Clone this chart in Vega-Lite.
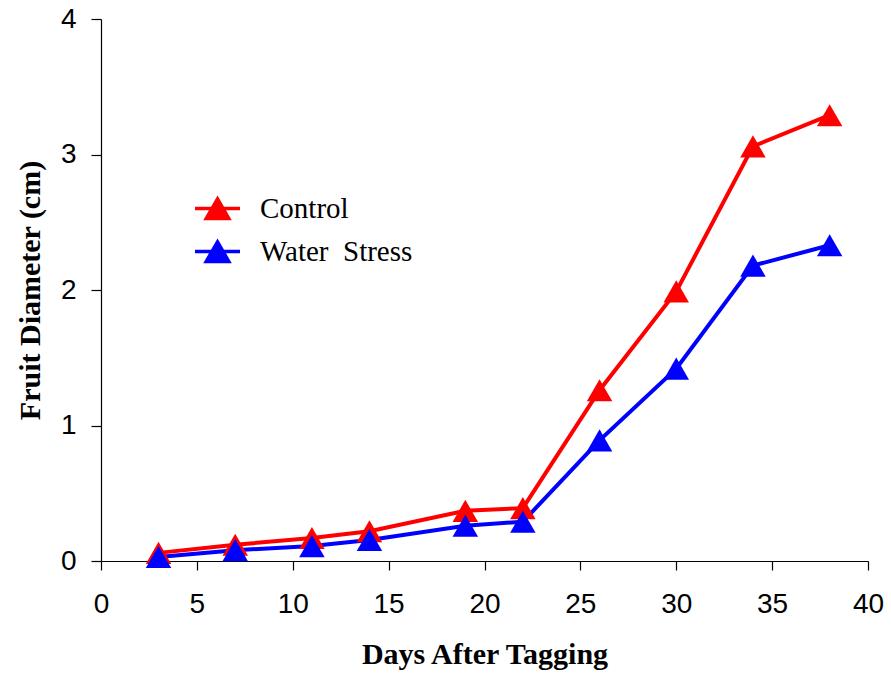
{
  "$schema": "https://vega.github.io/schema/vega-lite/v6.json",
  "autosize": "none",
  "padding": {"left": 101, "top": 19, "right": 23, "bottom": 114},
  "width": 767,
  "height": 542,
  "background": "white",
  "config": {"view": {"stroke": null}},
  "data": {"values": [
    {"day": 3, "diameter": 0.06, "treatment": "Control"},
    {"day": 7, "diameter": 0.12, "treatment": "Control"},
    {"day": 11, "diameter": 0.17, "treatment": "Control"},
    {"day": 14, "diameter": 0.22, "treatment": "Control"},
    {"day": 19, "diameter": 0.37, "treatment": "Control"},
    {"day": 22, "diameter": 0.39, "treatment": "Control"},
    {"day": 26, "diameter": 1.26, "treatment": "Control"},
    {"day": 30, "diameter": 1.99, "treatment": "Control"},
    {"day": 34, "diameter": 3.06, "treatment": "Control"},
    {"day": 38, "diameter": 3.29, "treatment": "Control"},
    {"day": 3, "diameter": 0.03, "treatment": "Water\u00a0 Stress"},
    {"day": 7, "diameter": 0.08, "treatment": "Water\u00a0 Stress"},
    {"day": 11, "diameter": 0.11, "treatment": "Water\u00a0 Stress"},
    {"day": 14, "diameter": 0.155, "treatment": "Water\u00a0 Stress"},
    {"day": 19, "diameter": 0.26, "treatment": "Water\u00a0 Stress"},
    {"day": 22, "diameter": 0.29, "treatment": "Water\u00a0 Stress"},
    {"day": 26, "diameter": 0.89, "treatment": "Water\u00a0 Stress"},
    {"day": 30, "diameter": 1.42, "treatment": "Water\u00a0 Stress"},
    {"day": 34, "diameter": 2.18, "treatment": "Water\u00a0 Stress"},
    {"day": 38, "diameter": 2.33, "treatment": "Water\u00a0 Stress"}
  ]},
  "encoding": {
    "x": {"field": "day", "type": "quantitative",
      "scale": {"domain": [0, 40], "nice": false, "zero": true},
      "axis": {"title": "Days After Tagging", "values": [0,5,10,15,20,25,30,35,40],
        "grid": false, "domainColor": "black", "domainWidth": 1.2, "tickColor": "black", "tickSize": 9, "tickWidth": 1.2,
        "labelFont": "Liberation Sans", "labelFontSize": 28, "labelColor": "black", "labelPadding": 20, "labelFlush": false,
        "titleFont": "Liberation Serif", "titleFontSize": 30, "titleFontWeight": "bold", "titleColor": "black", "titlePadding": 21}},
    "y": {"field": "diameter", "type": "quantitative",
      "scale": {"domain": [0, 4], "nice": false},
      "axis": {"title": "Fruit Diameter (cm)", "values": [0,1,2,3,4],
        "grid": false, "domainColor": "black", "domainWidth": 1.2, "tickColor": "black", "tickSize": 10, "tickWidth": 1.2,
        "labelFont": "Liberation Sans", "labelFontSize": 28, "labelColor": "black", "labelPadding": 15, "labelFlush": false,
        "titleFont": "Liberation Serif", "titleFontSize": 30, "titleFontWeight": "bold", "titleColor": "black", "titlePadding": 15}},
    "color": {"field": "treatment", "type": "nominal",
      "scale": {"domain": ["Control", "Water\u00a0 Stress"], "range": ["#FF0000", "#0000FF"]},
      "legend": {"title": null, "orient": "none", "legendX": 102, "legendY": 175,
        "symbolType": "M-2,0H2M0,-0.85L1,0.88L-1,0.88Z", "symbolSize": 506, "symbolStrokeWidth": 3.5,
        "labelFont": "Liberation Serif", "labelFontSize": 29, "labelColor": "black", "labelOffset": 28,
        "rowPadding": 8, "symbolOpacity": 1}}
  },
  "layer": [
    {"mark": {"type": "line", "strokeWidth": 4}},
    {"mark": {"type": "point", "shape": "triangle-up", "filled": true, "size": 650, "opacity": 1}}
  ]
}
